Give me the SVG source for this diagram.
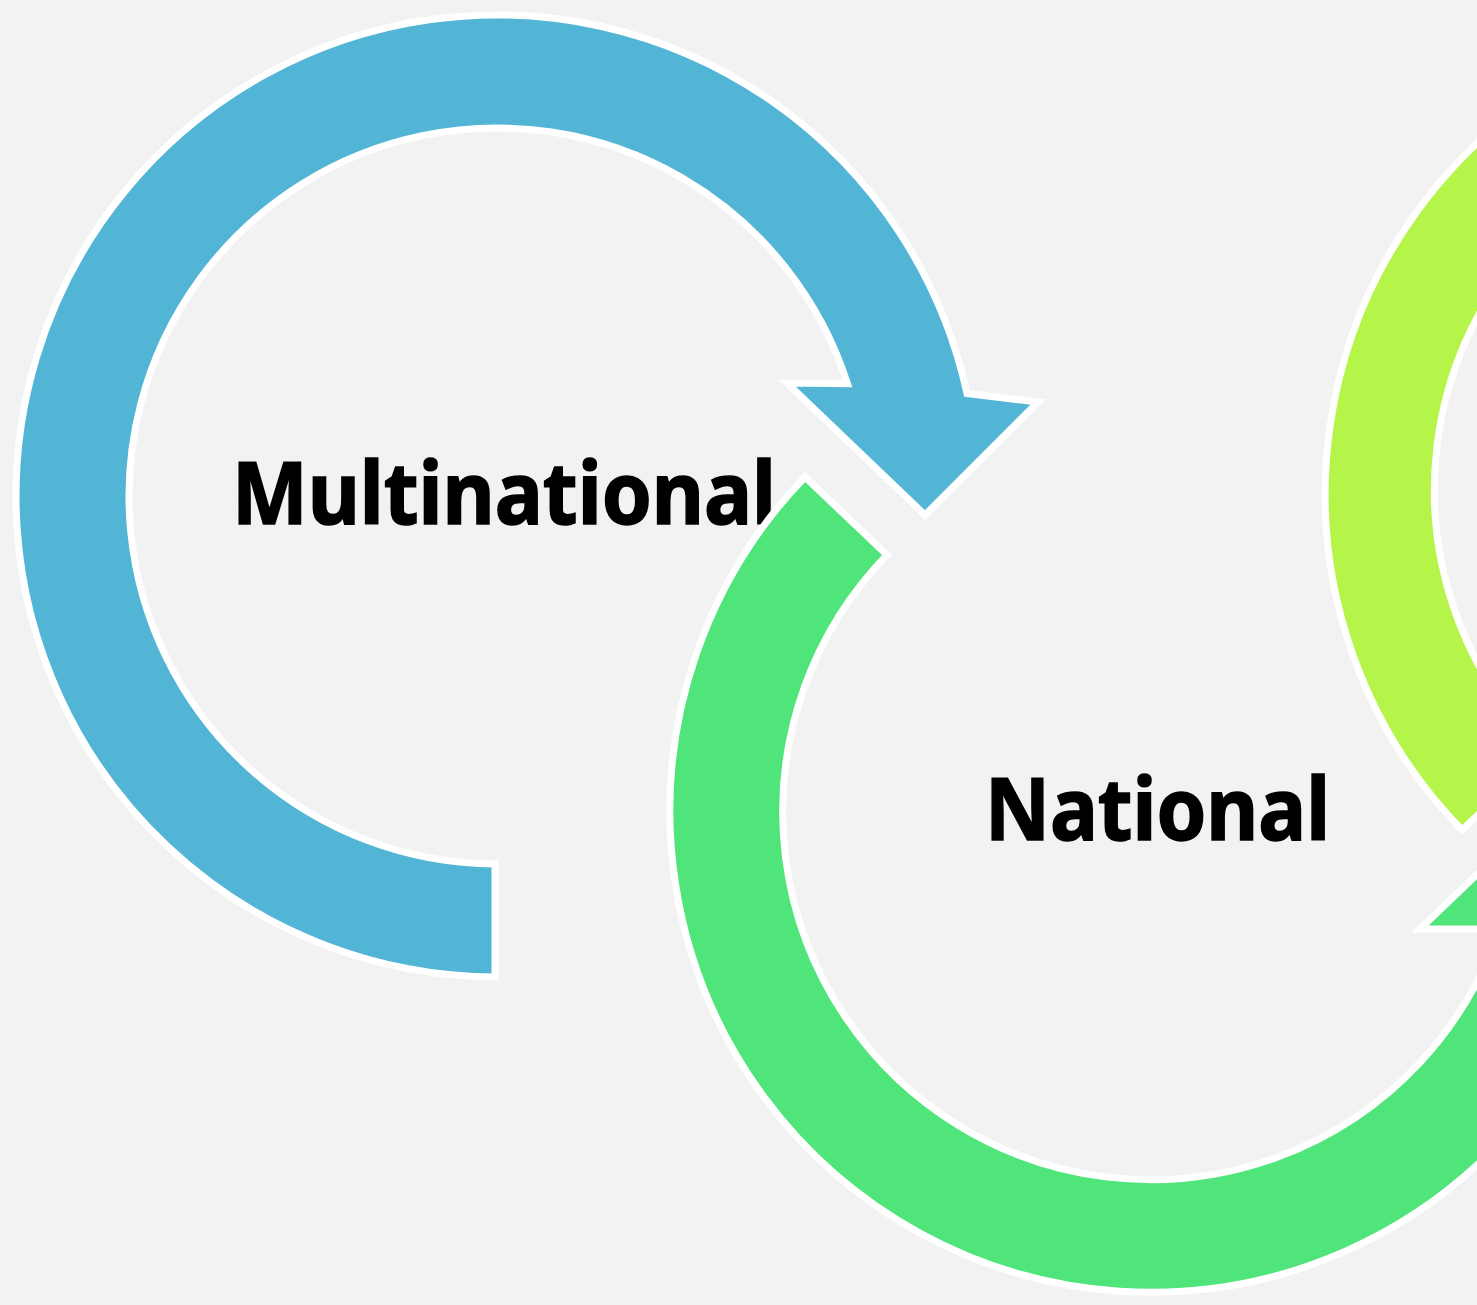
<svg xmlns="http://www.w3.org/2000/svg" width="1477" height="1305" viewBox="0 0 1477 1305">
<style>
.ring{stroke:#ffffff;stroke-width:7;stroke-linejoin:miter}
.lbl{font-family:"Noto Sans","Open Sans","Liberation Sans",sans-serif;font-weight:bold;font-size:86px;fill:#000000;stroke:#000000;stroke-width:1.6}
</style>
<rect width="1477" height="1305" fill="#f2f2f2"/>
<g id="connectors"></g>
<g id="node-multinational">
<path class="ring" fill="#53b5d5" d="M495,977 A481,481 0 1 1 967,393.5 L1038,402 L925,515 L787,383 L847.5,383.8 A368,368 0 1 0 495,864 Z"/>
<text class="lbl" x="232" y="524" textLength="544" lengthAdjust="spacingAndGlyphs">Multinational</text>
</g>
<g id="node-national">
<path class="ring" fill="#50e57a" d="M805,477 A481,481 0 1 0 1619,922 L1687,913 L1558,797 L1420,929 L1499.5,929 A368,368 0 1 1 887,555 Z"/>
<text class="lbl" x="985" y="840" textLength="345" lengthAdjust="spacingAndGlyphs">National</text>
</g>
<g id="node-third">
<path class="ring" fill="#b5f54a" d="M1462,830 A481,481 0 1 1 2274,382 L2342,391 L2213,515 L2075,383 L2154.5,383 A368,368 0 1 0 1544,752 Z"/>
</g>
</svg>
